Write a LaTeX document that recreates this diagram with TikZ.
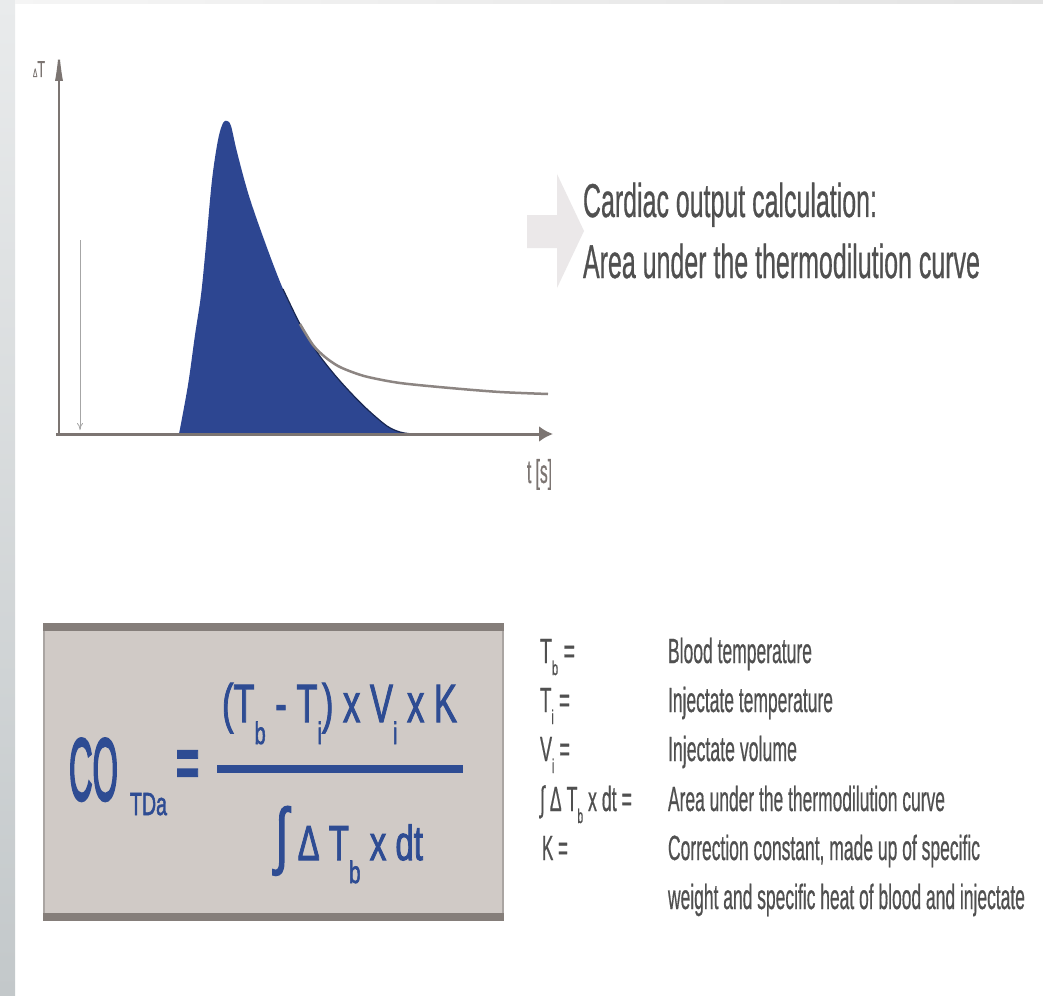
\documentclass[tikz,border=0pt]{standalone}
\usepackage{fontspec}
\setmainfont{Liberation Sans}
\newfontfamily\gtxt[FakeBold=0.8]{Liberation Sans}
\newfontfamily\ftx[FakeBold=2.2]{Liberation Sans}
\newfontfamily\ftxco[FakeBold=3.5]{Liberation Sans}
\usepackage{graphicx}
\usetikzlibrary{arrows.meta}
\definecolor{txtgray}{HTML}{505050}
\definecolor{axisgray}{HTML}{7C7572}
\definecolor{curveblue}{HTML}{2D4691}
\definecolor{fblue}{HTML}{2E4C93}
\definecolor{boxfill}{HTML}{D0CAC6}
\definecolor{boxband}{HTML}{857E7A}
\definecolor{tailgray}{HTML}{8C8582}
\definecolor{arrowgray}{HTML}{EBE8E9}
\definecolor{striptop}{HTML}{E9EBEC}
\definecolor{stripbot}{HTML}{C3C8CA}
\newcommand{\fs}[1]{\fontsize{#1pt}{#1pt}\selectfont}
\newcommand{\dn}[3]{\raisebox{-#1pt}{\fs{#2}#3}}
\newcommand{\hw}[2]{\resizebox{#1pt}{\height}{#2}}
\begin{document}
\begin{tikzpicture}[x=1pt,y=-1pt,
  txt/.style={inner sep=0pt, outer sep=0pt, anchor=base west, text=txtgray, font=\gtxt},
  ftxt/.style={inner sep=0pt, outer sep=0pt, anchor=base west, text=fblue, font=\ftx}]
\useasboundingbox (0,0) rectangle (1043,995);
\fill[white] (0,0) rectangle (1043,995);
\shade[top color=striptop, bottom color=stripbot] (0,0) rectangle (15,995);
\shade[left color=black!4, right color=black!11] (15,0) rectangle (1043,4);

% block arrow
\fill[arrowgray] (527,215) -- (557,215) -- (557,174) -- (584,231) -- (557,288) -- (557,248) -- (527,248) -- cycle;

% curve
\fill[curveblue] plot[smooth, tension=0.55] coordinates {(179,434) (188,385) (195,335) (201,295) (206,245) (212,180) (218,140) (223,123) (227,121) (231,126) (237,152) (249,196) (266,245) (283,289) (300,324) (317,352) (334,374) (351,393) (368,410) (387,426) (400,432) (410,434)} -- cycle;
\draw[curveblue!55!black, line width=1.2pt] plot[smooth, tension=0.55] coordinates {(283,289) (300,324) (317,352) (334,374) (351,393) (368,410) (387,426) (400,432) (412,434)};
\draw[tailgray, line width=2.5pt] plot[smooth] coordinates {(300,324) (313,345) (325,357) (338,366) (352,372) (368,377) (400,383) (450,388) (500,392) (548,394)};

% axes
\coordinate (O) at (59,434);
\coordinate (Ytip) at (59,47);
\coordinate (Xstart) at (56,434);
\coordinate (Xtip) at (553,434);
\draw[axisgray, line width=2pt, -{Latex[length=34pt,width=8pt]}] (O) -- (Ytip);
\draw[axisgray, line width=3pt, -{Latex[length=14pt,width=16pt]}] (Xstart) -- (Xtip);
\coordinate (Da) at (80,240);
\coordinate (Db) at (80,430);
\draw[black!35, line width=0.8pt, -{To[length=7pt,width=6pt]}] (Da) -- (Db);
\node[txt, text=axisgray] (ylab) at (33,77) {\hw{12}{\fs{12}Δ\fs{23}T}};
\node[txt, text=axisgray] (xlab) at (527,483) {\hw{25}{\fs{33}t [s]}};

% heading
\node[txt] (h1) at (583,217) {\hw{294}{\fs{47.5}Cardiac output calculation:}};
\node[txt] (h2) at (583,278) {\hw{397}{\fs{47.5}Area under the thermodilution curve}};

% formula box
\node[draw=boxband!70, line width=1.5pt, fill=boxfill, minimum width=459pt, minimum height=296pt, anchor=north west, inner sep=0pt] (box) at (43,623) {};
\fill[boxband] (box.north west) rectangle ([yshift=-8pt]box.north east);
\fill[boxband] ([yshift=8pt]box.south west) rectangle (box.south east);

\node[ftxt, font=\ftxco] (co) at (69,800) {\hw{49}{\fs{88}CO}};
\node[ftxt] (tda) at (130,815) {\hw{37}{\fs{32}TDa}};
\node[ftxt] (eq) at (176,786) {\scalebox{1}[1.7]{\fs{40}\bfseries =}};
\coordinate (fl) at (217,768.5);
\coordinate (fr) at (463,768.5);
\draw[fblue, line width=8pt] (fl) -- (fr);
\node[ftxt] (num) at (222,722) {\hw{235}{\fs{54}(T\dn{22}{31}{b} - T\dn{22}{31}{i}) x V\dn{22}{31}{i} x K}};
\node[ftxt] (den) at (275,860) {\hw{148}{\fs{49}{\fs{73}∫} Δ T\dn{23}{31}{b} x dt}};

% legend
\node[txt] (l1) at (540,663) {\hw{35}{\fs{35}T\dn{12}{20}{b} =}};
\node[txt] (l2) at (540,712) {\hw{30}{\fs{35}T\dn{12}{20}{i} =}};
\node[txt] (l3) at (540,761) {\hw{30}{\fs{35}V\dn{12}{20}{i} =}};
\node[txt] (l4) at (540,811) {\hw{92}{\fs{35}∫ Δ T\dn{12}{20}{b} x dt =}};
\node[txt] (l5) at (542,860) {\hw{26}{\fs{35}K =}};

\node[txt] (r1) at (668,663) {\hw{144}{\fs{35}Blood temperature}};
\node[txt] (r2) at (668,712) {\hw{165}{\fs{35}Injectate temperature}};
\node[txt] (r3) at (668,761) {\hw{129}{\fs{35}Injectate volume}};
\node[txt] (r4) at (668,811) {\hw{277}{\fs{35}Area under the thermodilution curve}};
\node[txt] (r5) at (668,860) {\hw{312}{\fs{35}Correction constant, made up of specific}};
\node[txt] (r6) at (668,909) {\hw{357}{\fs{35}weight and specific heat of blood and injectate}};
\end{tikzpicture}
\end{document}
